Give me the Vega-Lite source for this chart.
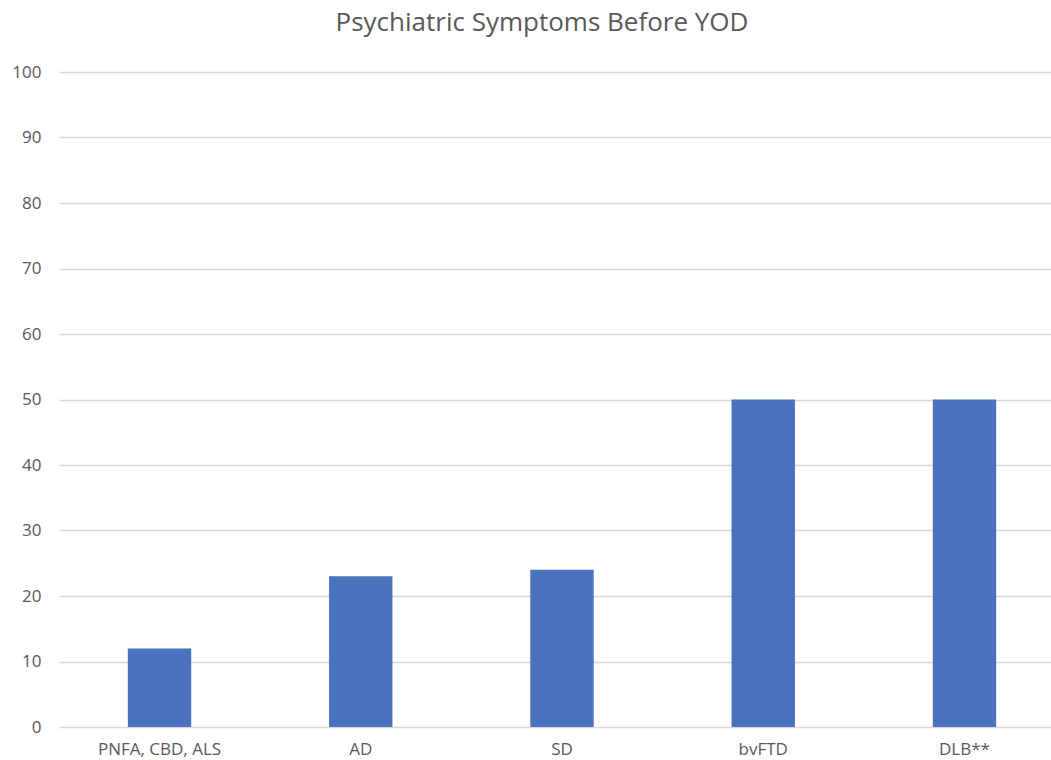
{
  "$schema": "https://vega.github.io/schema/vega-lite/v6.json",
  "width": 1006,
  "height": 655,
  "autosize": {"type": "none"},
  "padding": {"left": 59, "top": 72, "right": 0, "bottom": 33},
  "background": "white",
  "title": {
    "text": "Psychiatric Symptoms Before YOD",
    "font": "Open Sans",
    "fontSize": 26,
    "fontWeight": "normal",
    "color": "#595959",
    "anchor": "middle",
    "offset": 27,
    "dx": -20
  },
  "data": {
    "values": [
      {"group": "PNFA, CBD, ALS", "pct": 12},
      {"group": "AD", "pct": 23},
      {"group": "SD", "pct": 24},
      {"group": "bvFTD", "pct": 50},
      {"group": "DLB**", "pct": 50}
    ]
  },
  "mark": {"type": "bar", "color": "#4A72BE"},
  "encoding": {
    "x": {
      "field": "group",
      "type": "nominal",
      "sort": null,
      "title": null,
      "scale": {"paddingInner": 0.685, "paddingOuter": 0.342},
      "axis": {
        "labelAngle": 0,
        "labelFont": "Open Sans",
        "labelFontSize": 17,
        "labelColor": "#595959",
        "labelPadding": 14,
        "ticks": false,
        "domain": false,
        "grid": false
      }
    },
    "y": {
      "field": "pct",
      "type": "quantitative",
      "title": null,
      "scale": {"domain": [0, 100]},
      "axis": {
        "values": [0, 10, 20, 30, 40, 50, 60, 70, 80, 90, 100],
        "labelFont": "Open Sans",
        "labelFontSize": 17,
        "labelColor": "#595959",
        "labelPadding": 18,
        "ticks": false,
        "domain": false,
        "gridColor": "#d9d9d9",
        "gridWidth": 1.3
      }
    }
  },
  "config": {"view": {"stroke": null}}
}
